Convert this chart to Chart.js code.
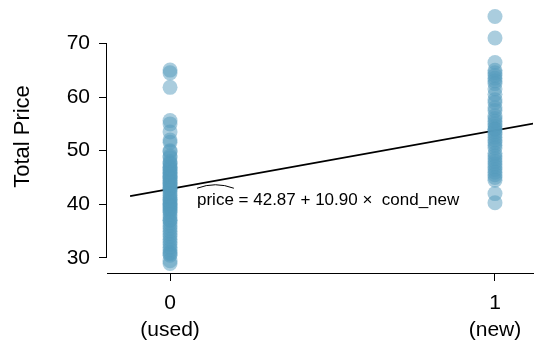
<!DOCTYPE html>
<html>
<head>
<meta charset="utf-8">
<script src="https://cdn.jsdelivr.net/npm/chart.js@4"></script>
<style>
  body { margin: 0; background: #fff; }
</style>
</head>
<body>
<canvas id="myChart" width="549" height="343"></canvas>
<script>
// total price of used games (cond_new = 0)
const usedPrices = [
  65.02, 64.5, 61.8, 55.6, 54.99, 53.5, 52.0, 51.55, 50.0, 49.8, 49.0, 48.7,
  48.0, 47.7, 47.5, 47.0, 46.9, 46.5, 46.3, 46.0, 45.8, 45.5, 45.2, 45.0,
  44.8, 44.5, 44.2, 44.0, 43.8, 43.5, 43.2, 43.0, 42.8, 42.5, 42.0, 41.7,
  41.3, 41.0, 40.8, 40.5, 40.2, 40.0, 39.8, 39.5, 39.3, 39.0, 38.8, 38.5,
  38.0, 37.5, 37.04, 37.02, 36.5, 36.0, 35.5, 35.0, 34.5, 34.0, 33.5, 33.0,
  32.5, 32.0, 31.5, 31.0, 30.8, 30.5, 29.5, 28.98
]
// total price of new games (cond_new = 1)
const newPrices = [
  75.0, 71.0, 66.44, 65.0, 64.5, 64.0, 63.5, 63.0, 62.5, 61.5, 60.5, 59.5,
  59.0, 58.0, 57.5, 56.5, 56.0, 55.5, 55.0, 54.5, 54.0, 53.99, 53.5, 53.0,
  52.5, 52.0, 51.5, 51.0, 50.5, 49.5, 49.0, 48.5, 48.0, 47.5, 47.0, 46.5,
  46.0, 45.5, 45.0, 44.5, 42.0, 40.3
]
const conditions = [0, 1]
const xTickLabels = [["0", "(used)"], ["1", "(new)"]]
const yTicks = [30, 40, 50, 60, 70]
const intercept = 42.87
const slope = 10.90
const lineX = [-0.123, 1.126]

const points = []
usedPrices.forEach(function(p) { points.push({x: conditions[0], y: p}) })
newPrices.forEach(function(p) { points.push({x: conditions[1], y: p}) })

const fit = lineX.map(function(x) { return {x: x, y: intercept + slope * x} })

const fontFam = "'Liberation Sans', Arial, Helvetica, sans-serif"

// y axis line only between first and last tick, plus equation text
const extras = {
  id: 'extras',
  afterDraw(chart) {
    const ctx = chart.ctx
    const xs = chart.scales.x, ys = chart.scales.y
    ctx.save()
    ctx.strokeStyle = '#000'
    ctx.lineWidth = 1
    ctx.beginPath()
    const ax = Math.round(ys.right) - 0.5
    ctx.moveTo(ax, ys.getPixelForValue(yTicks[0]))
    ctx.lineTo(ax, ys.getPixelForValue(yTicks[yTicks.length - 1]))
    ctx.stroke()

    const tx = xs.getPixelForValue(0.083)
    const ty = ys.getPixelForValue(40.76)
    ctx.fillStyle = '#000'
    ctx.font = '17px ' + fontFam
    ctx.textBaseline = 'middle'
    ctx.textAlign = 'left'
    ctx.fillText('price = 42.87 + 10.90 \u00d7  cond_new', tx, ty)
    const w = ctx.measureText('price').width
    ctx.beginPath()
    ctx.moveTo(tx, ty - 12)
    ctx.quadraticCurveTo(tx + w / 2, ty - 19, tx + w, ty - 12)
    ctx.stroke()
    ctx.restore()
  }
}

new Chart(document.getElementById('myChart'), {
  type: 'scatter',
  data: {
    datasets: [{
      data: points,
      pointRadius: 7.5,
      pointHoverRadius: 7.5,
      borderWidth: 0,
      backgroundColor: 'rgba(86, 155, 189, 0.5)',
      clip: false
    }, {
      type: 'line',
      data: fit,
      showLine: true,
      borderColor: '#000',
      borderWidth: 1.8,
      pointRadius: 0,
      fill: false
    }]
  },
  options: {
    responsive: false,
    animation: false,
    layout: { autoPadding: false, padding: { left: 0, right: 16, top: 0, bottom: 0 } },
    plugins: { legend: { display: false }, tooltip: { enabled: false } },
    scales: {
      x: {
        type: 'linear',
        min: -0.194,
        max: 1.117,
        afterBuildTicks: function(scale) {
          scale.ticks = conditions.map(function(v) { return {value: v} })
        },
        afterFit: function(scale) {
          scale.height = 70
          scale.paddingLeft = 0
          scale.paddingRight = 0
        },
        ticks: {
          color: '#000',
          font: { family: fontFam, size: 21, lineHeight: 1.27 },
          padding: 9,
          maxRotation: 0,
          callback: function(v) { return xTickLabels[conditions.indexOf(v)] }
        },
        grid: { drawOnChartArea: false, tickLength: 8, color: '#000' },
        border: { display: true, color: '#000', width: 1 }
      },
      y: {
        min: 27.2,
        max: 78.08,
        afterBuildTicks: function(scale) {
          scale.ticks = yTicks.map(function(v) { return {value: v} })
        },
        afterFit: function(scale) {
          scale.width = 107
          scale.paddingTop = 0
          scale.paddingBottom = 0
        },
        ticks: {
          color: '#000',
          font: { family: fontFam, size: 21 },
          padding: 9
        },
        grid: { drawOnChartArea: false, tickLength: 8, color: '#000' },
        border: { display: false },
        title: {
          display: true,
          text: 'Total Price',
          color: '#000',
          font: { family: fontFam, size: 22 },
          padding: { top: 10 }
        }
      }
    }
  },
  plugins: [extras]
})
</script>
</body>
</html>
